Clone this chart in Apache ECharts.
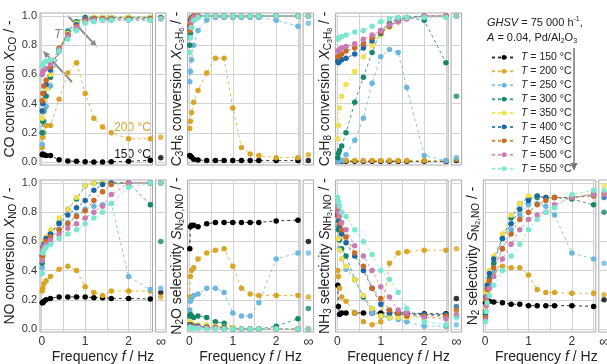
<!DOCTYPE html>
<html>
<head>
<meta charset="utf-8">
<script src="https://cdn.jsdelivr.net/npm/echarts@6/dist/echarts.min.js"></script>
<style>
html, body { margin: 0; padding: 0; background: #fff; }
#chart { width: 607px; height: 364px; }
</style>
</head>
<body>
<div id="chart"></div>
<script>
// ---------- data ----------
var freq = [0.01, 0.025, 0.05, 0.1, 0.2, 0.4, 0.6, 0.8, 1.0, 1.2, 1.4, 1.6, 2.0, 2.5];
var tempNames = ['T = 150 °C', 'T = 200 °C', 'T = 250 °C', 'T = 300 °C', 'T = 350 °C',
                 'T = 400 °C', 'T = 450 °C', 'T = 500 °C', 'T = 550 °C'];
var colors = ['#000000', '#d9a528', '#6db6de', '#17876a', '#eee04f',
              '#1b67a8', '#c96a25', '#c97cb3', '#7ae8cf'];
var yTicks = [0, 0.2, 0.4, 0.6, 0.8, 1.0];
var xGrid = [0, 0.5, 1, 1.5, 2, 2.5];
var xTicks = [0, 1, 2];

// CO conversion
var xCO = [
    [0.05, 0.055, 0.05, 0.045, 0.045, 0.016, 0.008, 0.005, 0.002, 0.0, 0.0, 0.003, 0.005, 0.012],
    [0.1, 0.17, 0.2, 0.25, 0.25, 0.43, 0.61, 0.68, 0.47, 0.3, 0.24, 0.2, 0.16, 0.16],
    [0.12, 0.2, 0.28, 0.38, 0.52, 0.76, 0.9, 0.96, 0.99, 0.99, 0.99, 0.99, 0.99, 0.99],
    [0.2, 0.28, 0.35, 0.45, 0.58, 0.76, 0.89, 0.96, 0.99, 0.99, 0.99, 0.99, 0.99, 0.99],
    [0.3, 0.35, 0.42, 0.5, 0.6, 0.78, 0.88, 0.95, 0.98, 0.99, 0.99, 0.99, 0.99, 0.99],
    [0.35, 0.4, 0.47, 0.53, 0.63, 0.77, 0.87, 0.94, 0.98, 0.98, 0.98, 0.98, 0.98, 0.98],
    [0.42, 0.47, 0.52, 0.56, 0.65, 0.78, 0.87, 0.93, 0.97, 0.98, 0.98, 0.98, 0.98, 0.98],
    [0.6, 0.62, 0.63, 0.64, 0.67, 0.77, 0.86, 0.92, 0.96, 0.97, 0.97, 0.97, 0.97, 0.97],
    [0.66, 0.67, 0.68, 0.69, 0.7, 0.76, 0.84, 0.9, 0.95, 0.96, 0.97, 0.97, 0.97, 0.97]
];
var xCOInf = [0.03, 0.17, 0.99, 0.99, 0.99, 0.99, 0.98, 0.98, 0.98];

// C3H6 conversion
var xC3H6 = [
    [0.045, 0.04, 0.035, 0.02, 0.015, 0.01, 0.01, 0.01, 0.01, 0.01, 0.01, 0.01, 0.01, 0.01],
    [0.23, 0.28, 0.34, 0.41, 0.49, 0.61, 0.71, 0.71, 0.37, 0.1, 0.056, 0.045, 0.03, 0.03],
    [0.55, 0.62, 0.7, 0.8, 0.9, 0.97, 0.99, 0.99, 0.99, 0.99, 0.99, 0.99, 0.97, 0.93],
    [0.8, 0.88, 0.92, 0.97, 0.99, 1.0, 1.0, 1.0, 1.0, 1.0, 1.0, 1.0, 1.0, 1.0],
    [0.96, 0.98, 0.99, 1.0, 1.0, 1.0, 1.0, 1.0, 1.0, 1.0, 1.0, 1.0, 1.0, 1.0],
    [0.93, 0.97, 0.99, 1.0, 1.0, 1.0, 1.0, 1.0, 1.0, 1.0, 1.0, 1.0, 1.0, 1.0],
    [0.9, 0.95, 0.98, 1.0, 1.0, 1.0, 1.0, 1.0, 1.0, 1.0, 1.0, 1.0, 1.0, 1.0],
    [0.85, 0.92, 0.96, 0.99, 1.0, 1.0, 1.0, 1.0, 1.0, 1.0, 1.0, 1.0, 1.0, 1.0],
    [0.75, 0.85, 0.92, 0.97, 0.99, 1.0, 1.0, 1.0, 1.0, 1.0, 1.0, 1.0, 1.0, 1.0]
];
var xC3H6Inf = [0.01, 0.05, 0.95, 1.0, 1.0, 1.0, 1.0, 1.0, 1.0];

// C3H8 conversion
var xC3H8 = [
    [0.005, 0.005, 0.005, 0.005, 0.005, 0.005, 0.005, 0.005, 0.005, 0.005, 0.005, 0.005, 0.005, 0.005],
    [0.01, 0.01, 0.01, 0.01, 0.01, 0.01, 0.01, 0.01, 0.01, 0.01, 0.01, 0.01, 0.01, 0.01],
    [0.005, 0.005, 0.008, 0.01, 0.05, 0.15, 0.3, 0.54, 0.72, 0.77, 0.75, 0.51, 0.045, 0.01],
    [0.03, 0.06, 0.08, 0.11, 0.2, 0.41, 0.58, 0.75, 0.9, 0.95, 0.98, 0.99, 0.97, 0.68],
    [0.16, 0.25, 0.37, 0.45, 0.53, 0.62, 0.72, 0.8, 0.87, 0.92, 0.97, 0.99, 1.0, 1.0],
    [0.69, 0.68, 0.69, 0.7, 0.71, 0.74, 0.78, 0.83, 0.88, 0.93, 0.97, 0.99, 1.0, 1.0],
    [0.72, 0.72, 0.73, 0.74, 0.76, 0.78, 0.81, 0.85, 0.89, 0.93, 0.96, 0.98, 1.0, 1.0],
    [0.76, 0.76, 0.77, 0.78, 0.79, 0.81, 0.84, 0.87, 0.9, 0.94, 0.96, 0.98, 1.0, 1.0],
    [0.84, 0.85, 0.85, 0.86, 0.87, 0.89, 0.9, 0.93, 0.96, 0.98, 0.99, 0.99, 0.99, 0.99]
];
var xC3H8Inf = [0.01, 0.02, 0.03, 0.45, 1.0, 1.0, 1.0, 1.0, 1.0];

// NO conversion
var xNO = [
    [0.18, 0.18, 0.19, 0.2, 0.21, 0.22, 0.22, 0.22, 0.22, 0.215, 0.215, 0.21, 0.21, 0.205],
    [0.26, 0.28, 0.31, 0.33, 0.36, 0.41, 0.43, 0.4, 0.29, 0.25, 0.23, 0.26, 0.26, 0.26],
    [0.42, 0.5, 0.55, 0.58, 0.62, 0.68, 0.73, 0.78, 0.82, 0.84, 0.85, 0.86, 0.36, 0.27],
    [0.45, 0.53, 0.57, 0.6, 0.65, 0.73, 0.82, 0.89, 0.98, 1.0, 1.0, 1.0, 1.0, 0.85],
    [0.48, 0.55, 0.6, 0.63, 0.68, 0.76, 0.82, 0.9, 0.98, 1.0, 1.0, 1.0, 1.0, 1.0],
    [0.5, 0.56, 0.58, 0.62, 0.65, 0.72, 0.78, 0.83, 0.88, 0.95, 0.99, 1.0, 1.0, 1.0],
    [0.5, 0.55, 0.57, 0.6, 0.63, 0.68, 0.72, 0.77, 0.81, 0.88, 0.94, 0.99, 1.0, 1.0],
    [0.47, 0.54, 0.56, 0.58, 0.61, 0.65, 0.69, 0.72, 0.76, 0.8, 0.84, 0.92, 1.0, 1.0],
    [0.38, 0.52, 0.54, 0.56, 0.58, 0.62, 0.65, 0.68, 0.72, 0.76, 0.8, 0.86, 0.97, 1.0]
];
var xNOInf = [0.25, 0.22, 0.28, 0.6, 1.0, 1.0, 1.0, 1.0, 1.0];

// N2O selectivity
var sN2O = [
    [0.55, 0.7, 0.71, 0.71, 0.7, 0.72, 0.73, 0.73, 0.73, 0.73, 0.73, 0.73, 0.74, 0.745],
    [0.22, 0.36, 0.4, 0.42, 0.48, 0.52, 0.54, 0.55, 0.43, 0.28, 0.24, 0.23, 0.23, 0.23],
    [0.13, 0.19, 0.21, 0.23, 0.24, 0.28, 0.28, 0.25, 0.11, 0.09, 0.09, 0.18, 0.48, 0.52],
    [0.09, 0.1, 0.09, 0.08, 0.09, 0.08, 0.05, 0.04, 0.01, 0.0, 0.0, 0.0, 0.02, 0.07],
    [0.05, 0.04, 0.04, 0.03, 0.03, 0.03, 0.02, 0.015, 0.01, 0.0, 0.0, 0.0, 0.0, 0.0],
    [0.03, 0.03, 0.02, 0.02, 0.02, 0.015, 0.01, 0.01, 0.0, 0.0, 0.0, 0.0, 0.0, 0.0],
    [0.02, 0.02, 0.015, 0.015, 0.01, 0.01, 0.01, 0.005, 0.0, 0.0, 0.0, 0.0, 0.0, 0.0],
    [0.015, 0.01, 0.01, 0.01, 0.01, 0.005, 0.005, 0.0, 0.0, 0.0, 0.0, 0.0, 0.0, 0.0],
    [0.01, 0.005, 0.005, 0.005, 0.005, 0.0, 0.0, 0.0, 0.0, 0.0, 0.0, 0.0, 0.0, 0.0]
];
var sN2OInf = [0.6, 0.22, 0.52, 0.14, 0.0, 0.0, 0.0, 0.0, 0.0];

// NH3 selectivity
var sNH3 = [
    [0.3, 0.155, 0.1, 0.11, 0.11, 0.11, 0.11, 0.11, 0.11, 0.11, 0.11, 0.11, 0.105, 0.105],
    [0.4, 0.36, 0.28, 0.22, 0.19, 0.11, 0.05, 0.03, 0.05, 0.45, 0.52, 0.53, 0.54, 0.54],
    [0.7, 0.62, 0.55, 0.48, 0.41, 0.34, 0.22, 0.11, 0.09, 0.075, 0.065, 0.05, 0.02, 0.02],
    [0.77, 0.68, 0.61, 0.55, 0.5, 0.34, 0.22, 0.14, 0.09, 0.085, 0.1, 0.1, 0.1, 0.09],
    [0.75, 0.62, 0.54, 0.48, 0.43, 0.34, 0.23, 0.14, 0.09, 0.08, 0.08, 0.08, 0.08, 0.08],
    [0.79, 0.74, 0.7, 0.65, 0.59, 0.5, 0.4, 0.28, 0.17, 0.11, 0.11, 0.11, 0.1, 0.1],
    [0.81, 0.77, 0.72, 0.68, 0.63, 0.52, 0.43, 0.28, 0.21, 0.13, 0.11, 0.09, 0.09, 0.09],
    [0.84, 0.8, 0.77, 0.73, 0.68, 0.57, 0.5, 0.4, 0.29, 0.22, 0.13, 0.11, 0.08, 0.07],
    [0.9, 0.87, 0.84, 0.8, 0.77, 0.68, 0.6, 0.51, 0.4, 0.34, 0.25, 0.14, 0.05, 0.03]
];
var sNH3Inf = [0.21, 0.55, 0.03, 0.09, 0.12, 0.155, 0.13, 0.1, 0.075];

// N2 selectivity
var sN2 = [
    [0.18, 0.19, 0.2, 0.19, 0.185, 0.18, 0.17, 0.17, 0.16, 0.16, 0.16, 0.16, 0.16, 0.155],
    [0.13, 0.2, 0.22, 0.3, 0.39, 0.43, 0.42, 0.42, 0.37, 0.27, 0.25, 0.25, 0.245, 0.245],
    [0.1, 0.2, 0.25, 0.3, 0.4, 0.55, 0.68, 0.78, 0.85, 0.86, 0.84, 0.78, 0.52, 0.48],
    [0.12, 0.22, 0.28, 0.35, 0.45, 0.62, 0.76, 0.86, 0.9, 0.9, 0.9, 0.9, 0.89, 0.85],
    [0.15, 0.25, 0.32, 0.4, 0.5, 0.65, 0.78, 0.86, 0.91, 0.91, 0.9, 0.9, 0.9, 0.93],
    [0.1, 0.22, 0.3, 0.38, 0.48, 0.62, 0.72, 0.82, 0.88, 0.91, 0.9, 0.9, 0.9, 0.92],
    [0.08, 0.2, 0.27, 0.33, 0.42, 0.55, 0.65, 0.75, 0.8, 0.85, 0.88, 0.9, 0.9, 0.91],
    [0.06, 0.16, 0.22, 0.28, 0.36, 0.48, 0.58, 0.68, 0.75, 0.78, 0.8, 0.85, 0.9, 0.92],
    [0.05, 0.12, 0.18, 0.23, 0.3, 0.4, 0.5, 0.58, 0.68, 0.75, 0.8, 0.83, 0.92, 0.95]
];
var sN2Inf = [0.2, 0.235, 0.45, 0.8, 0.98, 0.9, 0.93, 0.92, 0.95];

// ---------- layout ----------
var FONT = '"Liberation Sans", Arial, sans-serif';
var colLeft = [40, 187.6, 335.6, 483.3];
var rowTop = [13, 180];
var mainW = 112.5, mainH = 152, sideGap = 3, sideW = 10.5;
var gridColor = '#d2d2d2', frameColor = '#a8a8a8';

var panels = [
    { data: xCO, inf: xCOInf, row: 0, col: 0, labels: true, name: 'CO conversion {i|X}{s|CO} / -' },
    { data: xC3H6, inf: xC3H6Inf, row: 0, col: 1, labels: false, name: 'C{s|3}H{s|6} conversion {i|X}{s|C}{ss|3}{s|H}{ss|6} / -' },
    { data: xC3H8, inf: xC3H8Inf, row: 0, col: 2, labels: false, name: 'C{s|3}H{s|8} conversion {i|X}{s|C}{ss|3}{s|H}{ss|8} / -' },
    { data: xNO, inf: xNOInf, row: 1, col: 0, labels: true, name: 'NO conversion {i|X}{s|NO} / -' },
    { data: sN2O, inf: sN2OInf, row: 1, col: 1, labels: false, name: 'N{s|2}O selectivity {i|S}{s|N}{ss|2}{s|O,NO} / -' },
    { data: sNH3, inf: sNH3Inf, row: 1, col: 2, labels: false, name: 'NH{s|3} selectivity {i|S}{s|NH}{ss|3}{s|,NO} / -' },
    { data: sN2, inf: sN2Inf, row: 1, col: 3, labels: false, name: 'N{s|2} selectivity {i|S}{s|N}{ss|2}{s|,NO} / -' }
];

var nameRich = {
    i: { fontSize: 14, fontStyle: 'italic', fontFamily: FONT, color: '#222', lineHeight: 16 },
    s: { fontSize: 10, fontFamily: FONT, color: '#222', lineHeight: 10, verticalAlign: 'bottom' },
    ss: { fontSize: 7, fontFamily: FONT, color: '#222', lineHeight: 5, verticalAlign: 'bottom' }
};

var grids = [], xAxes = [], yAxes = [], series = [], graphics = [];

panels.forEach(function (p, k) {
    var gMain = 2 * k, gSide = 2 * k + 1;
    var left = colLeft[p.col], top = rowTop[p.row];
    var bottomRow = p.row === 1;

    grids.push({ left: left, top: top, width: mainW, height: mainH, show: true,
                 borderColor: frameColor, borderWidth: 1, outerBoundsMode: 'none' });
    grids.push({ left: left + mainW + sideGap, top: top, width: sideW, height: mainH, show: true,
                 borderColor: frameColor, borderWidth: 1, outerBoundsMode: 'none' });

    // main axes
    xAxes.push({
        gridIndex: gMain, type: 'value', min: -0.04, max: 2.55,
        axisLine: { show: false },
        axisTick: { show: false, customValues: xGrid },
        axisLabel: { show: bottomRow, customValues: xTicks, fontSize: 12, color: '#333', margin: 4, fontFamily: FONT },
        splitLine: { show: true, lineStyle: { color: gridColor, width: 1 } }
    });
    yAxes.push({
        gridIndex: gMain, type: 'value', min: -0.02, max: 1.02,
        axisLine: { show: false },
        axisTick: { show: false, customValues: yTicks },
        axisLabel: { show: p.labels, customValues: yTicks, fontSize: 11, color: '#333', margin: 3, fontFamily: FONT,
                     formatter: function (v) { return v.toFixed(1); } },
        splitLine: { show: true, lineStyle: { color: gridColor, width: 1 } },
        name: p.name, nameLocation: 'middle', nameRotate: 90, nameGap: p.labels ? 18 : 2,
        nameTextStyle: { fontSize: 14, fontFamily: FONT, color: '#222', lineHeight: 16, rich: nameRich }
    });
    // side (f -> infinity) axes
    xAxes.push({
        gridIndex: gSide, type: 'value', min: -1, max: 1,
        axisLine: { show: false },
        axisTick: { show: false, customValues: [0] },
        axisLabel: { show: bottomRow, customValues: [0], fontSize: 14, color: '#333', margin: 3, fontFamily: FONT,
                     formatter: function () { return '∞'; } },
        splitLine: { show: false }
    });
    yAxes.push({
        gridIndex: gSide, type: 'value', min: -0.02, max: 1.02,
        axisLine: { show: false },
        axisTick: { show: false, customValues: yTicks },
        axisLabel: { show: false },
        splitLine: { show: true, lineStyle: { color: gridColor, width: 1 } }
    });

    p.data.forEach(function (vals, t) {
        var pts = [];
        vals.forEach(function (v, i) { if (v !== null) pts.push([freq[i], v]); });
        series.push({
            type: 'line', name: tempNames[t], xAxisIndex: gMain, yAxisIndex: gMain,
            data: pts, symbol: 'circle', symbolSize: 5.5, showSymbol: true,
            lineStyle: { color: colors[t], width: 1, type: [3, 3], opacity: 0.8 },
            itemStyle: { color: colors[t] },
            emphasis: { disabled: true }, silent: true, animation: false
        });
        series.push({
            type: 'scatter', name: tempNames[t], xAxisIndex: gSide, yAxisIndex: gSide,
            data: [[0, p.inf[t]]], symbol: 'circle', symbolSize: 5.5,
            itemStyle: { color: colors[t] }, silent: true, animation: false
        });
    });

    if (bottomRow) {
        graphics.push({
            type: 'text',
            x: left + (mainW + sideGap + sideW) / 2, y: 357,
            style: { text: 'Frequency {i|f} / Hz', fontSize: 14, fontFamily: FONT, fill: '#222',
                     align: 'center', verticalAlign: 'middle',
                     rich: { i: { fontSize: 14, fontFamily: FONT, fontStyle: 'italic', fill: '#222' } } }
        });
    }
});

// arrow helper for the annotations
function arrow(x1, y1, x2, y2, color, w, head) {
    var a = Math.atan2(y2 - y1, x2 - x1);
    var hw = head * 0.45;
    var bx = x2 - head * Math.cos(a), by = y2 - head * Math.sin(a);
    graphics.push({ type: 'line', shape: { x1: x1, y1: y1, x2: bx, y2: by },
                    style: { stroke: color, lineWidth: w }, silent: true });
    graphics.push({ type: 'polygon', shape: { points: [[x2, y2],
                    [bx + hw * Math.sin(a), by - hw * Math.cos(a)],
                    [bx - hw * Math.sin(a), by + hw * Math.cos(a)]] },
                    style: { fill: color }, silent: true });
}

// annotations in the CO panel
arrow(72, 82, 43, 51, '#8a8a8a', 2, 7);
arrow(68, 16, 97, 47, '#8a8a8a', 2, 7);
graphics.push({ type: 'text', x: 54, y: 34,
    style: { text: '{i|T}↑', fontSize: 13, fontFamily: FONT, fill: '#8a8a8a', verticalAlign: 'middle',
             rich: { i: { fontSize: 13, fontFamily: FONT, fontStyle: 'italic', fill: '#8a8a8a' } } } });
graphics.push({ type: 'text', x: 151, y: 128,
    style: { text: '200 °C', fontSize: 12, fontFamily: FONT, fill: colors[1], align: 'right', verticalAlign: 'middle' } });
graphics.push({ type: 'text', x: 151, y: 155,
    style: { text: '150 °C', fontSize: 12, fontFamily: FONT, fill: '#111', align: 'right', verticalAlign: 'middle' } });

// legend header and temperature arrow
graphics.push({ type: 'text', x: 487, y: 23,
    style: { text: '{i|GHSV} = 75 000 h{sup|-1},', fontSize: 11, fontFamily: FONT, fill: '#222', verticalAlign: 'middle',
             rich: { i: { fontSize: 11, fontFamily: FONT, fontStyle: 'italic', fill: '#222', lineHeight: 15 },
                     sup: { fontSize: 7, fontFamily: FONT, fill: '#222', lineHeight: 7, verticalAlign: 'top' } } } });
graphics.push({ type: 'text', x: 487, y: 37.5,
    style: { text: '{i|A} = 0.04, Pd/Al{sub|2}O{sub|3}', fontSize: 11, fontFamily: FONT, fill: '#222', verticalAlign: 'middle',
             rich: { i: { fontSize: 11, fontFamily: FONT, fontStyle: 'italic', fill: '#222', lineHeight: 15 },
                     sub: { fontSize: 7, fontFamily: FONT, fill: '#222', lineHeight: 7, verticalAlign: 'bottom' } } } });
arrow(574, 48, 574, 171, '#777', 1.5, 8);

var chart = echarts.init(document.getElementById('chart'), null, { renderer: 'canvas' });

var option = {
    animation: false,
    textStyle: { fontFamily: FONT },
    grid: grids,
    xAxis: xAxes,
    yAxis: yAxes,
    legend: {
        orient: 'vertical', left: 486, top: 45.5,
        itemWidth: 24, itemHeight: 6, itemGap: 0,
        selectedMode: false,
        data: tempNames,
        formatter: function (name) { return '{i|T} = ' + name.slice(4); },
        textStyle: { fontSize: 10.5, fontFamily: FONT, color: '#222', lineHeight: 13.9,
                     rich: { i: { fontSize: 10.5, fontFamily: FONT, fontStyle: 'italic', color: '#222', lineHeight: 13.9 } } }
    },
    series: series,
    graphic: graphics
};

chart.setOption(option);
</script>
</body>
</html>
